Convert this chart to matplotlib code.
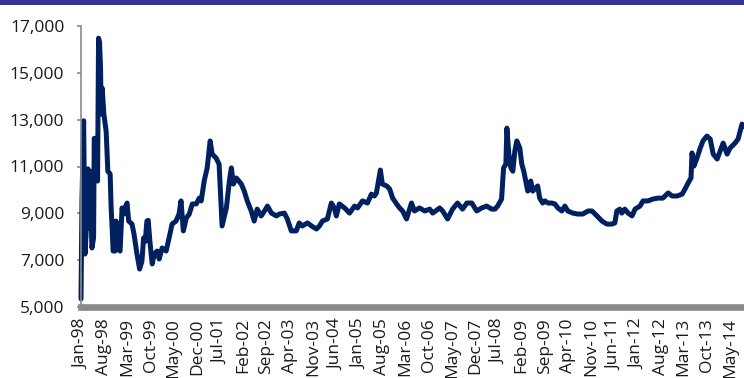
import numpy as np
import matplotlib
matplotlib.use('Agg')
import matplotlib.pyplot as plt
from matplotlib.patches import Rectangle

plt.rcParams['font.family'] = ['Open Sans', 'DejaVu Sans']

# months elapsed since Jan-98 and the index level
months = [
    0.0, 0.3, 0.8, 1.2, 1.5, 2.1, 2.4, 2.7, 3.3, 3.8, 4.0, 4.8, 5.0, 5.3, 5.6,
    5.9, 6.1, 6.4, 6.9, 7.6, 8.1, 8.8, 9.1, 9.4, 9.7, 10.3, 10.6, 11.1, 11.8,
    12.4, 12.9, 13.3, 13.9, 14.4, 15.4, 16.0, 16.9, 17.7, 18.4, 18.9, 19.4,
    19.9, 20.3, 20.8, 21.5, 22.1, 23.0, 23.6, 24.5, 25.7, 26.6, 27.5, 28.7,
    29.6, 30.2, 30.9, 31.8, 32.7, 33.6, 34.8, 35.7, 36.3, 37.2, 38.1, 39.0,
    39.6, 40.8, 41.7, 42.3, 42.6, 43.9, 44.8, 45.4, 46.0, 46.9, 48.4, 49.3,
    50.2, 51.4, 52.3, 53.2, 54.4, 55.4, 56.3, 57.5, 59.0, 59.9, 61.4, 62.3,
    63.5, 65.0, 65.9, 66.8, 68.4, 69.6, 71.1, 72.0, 72.9, 74.4, 75.6, 76.5,
    77.1, 78.0, 79.6, 81.1, 82.6, 83.5, 85.0, 86.5, 87.7, 88.6, 89.2, 90.4,
    91.0, 92.3, 93.2, 94.1, 95.3, 96.2, 97.1, 98.3, 99.8, 100.7, 102.2,
    103.8, 105.3, 106.2, 108.3, 109.2, 110.7, 112.2, 113.7, 115.2, 116.5,
    118.0, 119.5, 121.0, 122.5, 124.0, 125.0, 125.8, 127.0, 127.3, 127.6,
    128.3, 128.6, 129.2, 129.8, 130.4, 131.0, 131.6, 132.5, 133.1, 133.7,
    134.3, 134.9, 135.8, 136.4, 137.3, 137.9, 138.5, 139.4, 140.1, 141.0,
    142.2, 143.1, 144.0, 145.2, 146.1, 147.0, 148.5, 150.0, 151.5, 153.1,
    154.3, 155.8, 157.3, 158.8, 160.3, 161.2, 161.8, 162.7, 163.3, 164.2,
    165.2, 166.4, 167.3, 168.8, 169.7, 171.2, 172.7, 174.2, 175.7, 177.3,
    178.5, 180.0, 181.5, 182.4, 183.3, 184.2, 184.5, 185.1, 186.0, 187.0,
    187.8, 189.0, 190.0, 190.9, 192.1, 193.0, 193.9, 195.1, 196.0, 197.5,
    198.4, 199.6, 200.2,
]
values = [
    5350, 9600, 12950, 7260, 8000, 10900, 8370, 10800, 7520, 7950, 12200,
    12200, 10380, 16480, 16300, 15200, 13240, 14350, 13240, 12500, 10800,
    10680, 9230, 8370, 7390, 7390, 8670, 7520, 7390, 9230, 8970, 9230, 9440,
    8670, 8540, 8120, 7260, 6620, 6960, 7950, 7800, 8670, 8700, 7800, 6840,
    7260, 7390, 7050, 7520, 7390, 7950, 8540, 8670, 8970, 9530, 8250, 8800,
    8970, 9400, 9400, 9650, 9530, 10380, 10940, 12090, 11530, 11360, 11100,
    9400, 8460, 9230, 10380, 10940, 10250, 10510, 10250, 9950, 9530, 9100,
    8670, 9180, 8890, 9100, 9310, 9010, 8890, 8970, 9010, 8760, 8250, 8250,
    8590, 8460, 8590, 8460, 8330, 8460, 8670, 8760, 9440, 9230, 8890, 9400,
    9230, 9010, 9310, 9230, 9530, 9440, 9820, 9740, 9870, 10850, 10250,
    10170, 10040, 9650, 9400, 9230, 9100, 8760, 9440, 9100, 9230, 9100,
    9180, 9010, 9230, 9100, 8760, 9180, 9440, 9180, 9440, 9440, 9100, 9230,
    9310, 9180, 9180, 9310, 9610, 10250, 10940, 11100, 12640, 11530, 10940,
    10800, 11660, 12090, 11790, 11100, 10800, 10380, 9950, 10380, 9950,
    10080, 10170, 9650, 9440, 9530, 9440, 9440, 9400, 9230, 9100, 9310,
    9100, 9010, 8970, 8970, 9100, 9100, 8890, 8670, 8540, 8540, 8590, 9100,
    9180, 9010, 9180, 9010, 8890, 9180, 9310, 9530, 9530, 9610, 9650, 9650,
    9870, 9740, 9740, 9820, 10040, 10290, 10510, 11580, 11020, 11360, 11790,
    12090, 12300, 12170, 11530, 11320, 11660, 12000, 11530, 11790, 12000,
    12170, 12810, 12700,
]

tick_months = list(range(0, 197, 7))
tick_labels = ['Jan-98', 'Aug-98', 'Mar-99', 'Oct-99', 'May-00', 'Dec-00',
               'Jul-01', 'Feb-02', 'Sep-02', 'Apr-03', 'Nov-03', 'Jun-04',
               'Jan-05', 'Aug-05', 'Mar-06', 'Oct-06', 'May-07', 'Dec-07',
               'Jul-08', 'Feb-09', 'Sep-09', 'Apr-10', 'Nov-10', 'Jun-11',
               'Jan-12', 'Aug-12', 'Mar-13', 'Oct-13', 'May-14']
y_ticks = [5000, 7000, 9000, 11000, 13000, 15000, 17000]

fig = plt.figure(figsize=(7.44, 3.78), dpi=100)
W, H = 744, 378
ax = fig.add_axes([81 / W, (H - 307) / H, (W - 81) / W, (307 - 26) / H])

ax.plot(months, values, color='#002060', lw=3.6,
        solid_joinstyle='round', solid_capstyle='round', clip_on=False)

ax.set_xlim(0, 200.2)
ax.set_ylim(5000, 17000)
ax.set_yticks(y_ticks)
ax.set_yticklabels([f'{v:,}' for v in y_ticks], fontsize=12.5, color='#1a1a1a')
ax.set_xticks(tick_months)
ax.set_xticklabels(tick_labels, rotation=90, fontsize=12.5, color='#1a1a1a')

for s in ['top', 'right']:
    ax.spines[s].set_visible(False)
ax.spines['left'].set_color('#8a8a8a')
ax.spines['left'].set_linewidth(1.2)
ax.spines['bottom'].set_color('#8a8a8a')
ax.spines['bottom'].set_linewidth(4.8)
ax.spines['bottom'].set_zorder(1)

ax.tick_params(axis='y', length=3, width=1.2, color='#8a8a8a', pad=9)
ax.tick_params(axis='x', length=0, pad=8)

# band across the top of the figure
fig.patches.append(Rectangle((0, 1 - 5 / H), 1, 5 / H, transform=fig.transFigure,
                             facecolor='#35339a', edgecolor='none'))

fig.savefig('out.png', dpi=100)
plt.close()
